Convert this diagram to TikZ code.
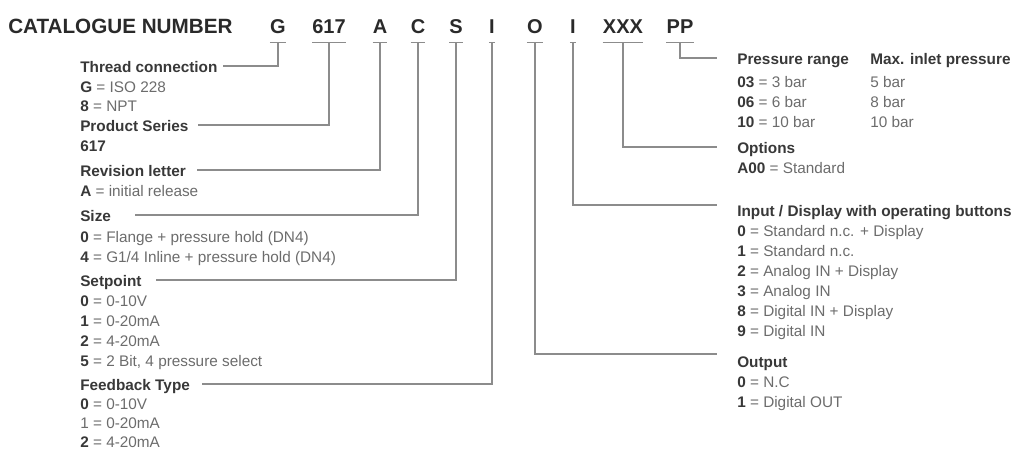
\documentclass[tikz,border=0pt]{standalone}
\usepackage{fontspec}
\setmainfont{Liberation Sans}
\definecolor{ttl}{HTML}{2A2A2A}
\definecolor{hd}{HTML}{383838}
\definecolor{it}{HTML}{6C6C6C}
\definecolor{ln}{HTML}{8C8C8C}
\newcommand\bnum[1]{\textbf{\textcolor{hd}{#1}}}
\begin{document}
\begin{tikzpicture}[x=0.75pt,y=-0.75pt,
 title/.style={font=\fontsize{15.5}{18}\selectfont\bfseries, text=ttl, inner sep=0pt, anchor=base west},
 code/.style={font=\fontsize{15}{18}\selectfont\bfseries, text=ttl, inner sep=0pt, text depth=6.75pt, anchor=base},
 head/.style={font=\fontsize{11.5}{14}\selectfont\bfseries, text=hd, inner sep=0pt, text height=9pt, text depth=0pt, anchor=base west},
 item/.style={font=\fontsize{11.5}{14}\selectfont, text=it, inner sep=0pt, anchor=base west},
 conn/.style={draw=ln, line width=1.1pt},
 tick/.style={draw=ln, line width=1.1pt, shorten <=1pt, shorten >=1pt}]
\useasboundingbox (0,0) rectangle (1017,451);

% title and code
\node[title] (title) at (8,33) {CATALOGUE NUMBER};
\node[code] (cG) at (278,33) {G};
\node[code] (c617) at (329,33) {617};
\node[code] (cA) at (380,33) {A};
\node[code] (cC) at (418,33) {C};
\node[code] (cS) at (456,33) {S};
\node[code] (cIa) at (492,33) {I};
\node[code] (cO) at (535,33) {O};
\node[code] (cIb) at (573,33) {I};
\node[code] (cX) at (623,33) {XXX};
\node[code] (cP) at (680,33) {PP};
\foreach \n in {cG,c617,cA,cC,cS,cIa,cO,cIb,cX,cP}
  \draw[tick] ([xshift=-1pt]\n.south west) -- ([xshift=1pt]\n.south east);

% left column
\node[head] (thread) at (80,72) {Thread connection};
\node[item] (th1) at (80,92) {\bnum{G} = ISO 228};
\node[item] (th2) at (80,111) {\bnum{8} = NPT};
\node[head] (prod) at (80,131) {Product Series};
\node[item] (pr1) at (80,151) {\bnum{617}};
\node[head] (rev) at (80,176) {Revision letter};
\node[item] (rv1) at (80,196) {\bnum{A} = initial release};
\node[head] (size) at (80,221) {Size};
\node[item] (sz1) at (80,242) {\bnum{0} = Flange + pressure hold (DN4)};
\node[item] (sz2) at (80,262) {\bnum{4} = G1/4 Inline + pressure hold (DN4)};
\node[head] (setp) at (80,286) {Setpoint};
\node[item] (sp1) at (80,306) {\bnum{0} = 0-10V};
\node[item] (sp2) at (80,326) {\bnum{1} = 0-20mA};
\node[item] (sp3) at (80,346) {\bnum{2} = 4-20mA};
\node[item] (sp4) at (80,366) {\bnum{5} = 2 Bit, 4 pressure select};
\node[head] (feed) at (80,390) {Feedback Type};
\node[item] (fb1) at (80,409) {\bnum{0} = 0-10V};
\node[item] (fb2) at (80,428) {1 = 0-20mA};
\node[item] (fb3) at (80,447) {\bnum{2} = 4-20mA};

% right column
\node[head] (pres) at (737,64) {Pressure range};
\node[head] (maxp) at (870,64) {Max. inlet pressure};
\node[item] (pp1) at (737,87) {\bnum{03} = 3 bar};
\node[item] (pp2) at (737,107) {\bnum{06} = 6 bar};
\node[item] (pp3) at (737,127) {\bnum{10} = 10 bar};
\node[item] (mp1) at (870,87) {5 bar};
\node[item] (mp2) at (870,107) {8 bar};
\node[item] (mp3) at (870,127) {10 bar};
\node[head] (opt) at (737,153) {Options};
\node[item] (op1) at (737,173) {\bnum{A00} = Standard};
\node[head] (inp) at (737,216) {Input / Display with operating buttons};
\node[item] (in1) at (737,236) {\bnum{0} = Standard n.c. + Display};
\node[item] (in2) at (737,256) {\bnum{1} = Standard n.c.};
\node[item] (in3) at (737,276) {\bnum{2} = Analog IN + Display};
\node[item] (in4) at (737,296) {\bnum{3} = Analog IN};
\node[item] (in5) at (737,316) {\bnum{8} = Digital IN + Display};
\node[item] (in6) at (737,336) {\bnum{9} = Digital IN};
\node[head] (out) at (737,367) {Output};
\node[item] (ou1) at (737,387) {\bnum{0} = N.C};
\node[item] (ou2) at (737,407) {\bnum{1} = Digital OUT};

% connectors
\draw[conn, shorten >=3.75pt] (cG.south) |- (thread.east);
\draw[conn, shorten >=6.75pt] (c617.south) |- (prod.east);
\draw[conn, shorten >=8pt] (cA.south) |- (rev.east);
\draw[conn, shorten >=18pt] (cC.south) |- (size.east);
\draw[conn, shorten >=10.5pt] (cS.south) |- (setp.east);
\draw[conn, shorten >=9pt] (cIa.south) |- (feed.east);
\draw[conn, shorten >=15pt] (cO.south) |- ([yshift=5.25pt]out.west);
\draw[conn, shorten >=15pt] (cIb.south) |- ([yshift=3.75pt]inp.west);
\draw[conn, shorten >=15pt] (cX.south) |- (opt.west);
\draw[conn, shorten >=15pt] (cP.south) |- (pres.west);
\end{tikzpicture}
\end{document}
